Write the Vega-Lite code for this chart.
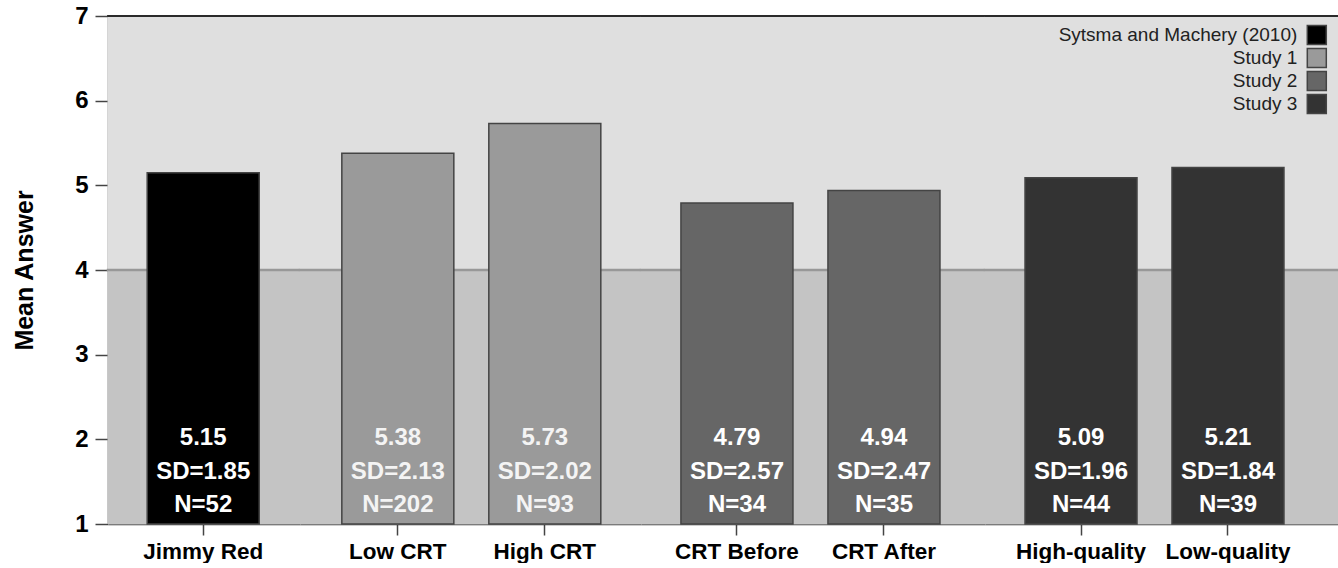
{
  "$schema": "https://vega.github.io/schema/vega-lite/v6.json",
  "padding": {"left": 12, "top": 4, "right": 0, "bottom": 0},
  "autosize": {"type": "pad"},
  "config": {
    "font": "Liberation Sans",
    "view": {"stroke": null},
    "axis": {
      "labelFont": "Liberation Sans", "labelFontSize": 22.5, "labelFontWeight": "bold", "labelColor": "#000000",
      "domainColor": "#333333", "domainWidth": 1.5, "tickColor": "#444444", "tickWidth": 1.5, "grid": false,
      "titleFont": "Liberation Sans", "titleFontSize": 25, "titleFontWeight": "bold", "titleColor": "#000000"
    },
    "axisX": {"tickSize": 11, "labelPadding": 5, "labelAngle": 0},
    "axisY": {"tickSize": 13, "labelPadding": 7, "labelFontSize": 24}
  },
  "data": {"values": [
    {"study": "Sytsma and Machery (2010)", "condition": "Jimmy Red", "mean": 5.15, "sd": 1.85, "n": 52},
    {"study": "Study 1", "condition": "Low CRT", "mean": 5.38, "sd": 2.13, "n": 202},
    {"study": "Study 1", "condition": "High CRT", "mean": 5.73, "sd": 2.02, "n": 93},
    {"study": "Study 2", "condition": "CRT Before", "mean": 4.79, "sd": 2.57, "n": 34},
    {"study": "Study 2", "condition": "CRT After", "mean": 4.94, "sd": 2.47, "n": 35},
    {"study": "Study 3", "condition": "High-quality", "mean": 5.09, "sd": 1.96, "n": 44},
    {"study": "Study 3", "condition": "Low-quality", "mean": 5.21, "sd": 1.84, "n": 39}
  ]},
  "transform": [
    {"calculate": "format(datum.mean, '.2f')", "as": "mean_label"},
    {"calculate": "'SD=' + format(datum.sd, '.2f')", "as": "sd_label"},
    {"calculate": "'N=' + datum.n", "as": "n_label"}
  ],
  "spacing": 0,
  "bounds": "flush",
  "resolve": {"scale": {"x": "independent", "y": "independent", "color": "independent"}},
  "hconcat": [
    {
      "width": 192, "height": 508,
      "transform": [{"filter": "datum.study === 'Sytsma and Machery (2010)'"}],
      "encoding": {
        "x": {"field": "condition", "type": "nominal", "sort": null, "title": null, "scale": {"paddingInner": 0.238, "paddingOuter": 0.272, "align": 0.49, "round": false}}
      },
      "layer": [
        {"transform": [{"aggregate": [{"op": "count", "as": "c"}]}], "mark": {"type": "rect", "fill": "#c4c4c4", "stroke": "#c4c4c4", "strokeWidth": 1}, "encoding": {"x": null, "y": {"datum": 1, "type": "quantitative", "title": "Mean Answer", "scale": {"domain": [1, 7], "nice": false, "zero": false}, "axis": {"values": [1, 2, 3, 4, 5, 6, 7], "format": "d", "title": "Mean Answer", "titlePadding": 37}}, "y2": {"datum": 4}}},
        {"transform": [{"aggregate": [{"op": "count", "as": "c"}]}], "mark": {"type": "rect", "fill": "#dfdfdf", "stroke": "#dfdfdf", "strokeWidth": 1}, "encoding": {"x": null, "y": {"datum": 4, "type": "quantitative", "title": "Mean Answer"}, "y2": {"datum": 7}}},
        {"transform": [{"aggregate": [{"op": "count", "as": "c"}]}], "mark": {"type": "rule", "stroke": "#989898", "strokeWidth": 2.5, "strokeCap": "square"}, "encoding": {"x": null, "y": {"datum": 4, "type": "quantitative", "title": "Mean Answer"}}},
        {"transform": [{"aggregate": [{"op": "count", "as": "c"}]}], "mark": {"type": "rule", "stroke": "#2a2a2a", "strokeWidth": 1.8, "strokeCap": "square"}, "encoding": {"x": null, "y": {"datum": 7, "type": "quantitative", "title": "Mean Answer"}}},
        {
          "mark": {"type": "bar", "stroke": "#444444", "strokeWidth": 1.5},
          "encoding": {
            "y": {"field": "mean", "type": "quantitative", "title": "Mean Answer"},
            "y2": {"datum": 1},
            "color": {"field": "study", "type": "nominal", "scale": {"domain": ["Sytsma and Machery (2010)", "Study 1", "Study 2", "Study 3"], "range": ["#000000", "#9a9a9a", "#666666", "#333333"]}, "legend": null}
          }
        },
        {"mark": {"type": "text", "fill": "#ffffff", "fontSize": 24, "fontWeight": "bold", "baseline": "middle"}, "encoding": {"y": {"datum": 2.02, "type": "quantitative", "title": "Mean Answer"}, "text": {"field": "mean_label"}}},
        {"mark": {"type": "text", "fill": "#ffffff", "fontSize": 24, "fontWeight": "bold", "baseline": "middle"}, "encoding": {"y": {"datum": 1.615, "type": "quantitative", "title": "Mean Answer"}, "text": {"field": "sd_label"}}},
        {"mark": {"type": "text", "fill": "#ffffff", "fontSize": 24, "fontWeight": "bold", "baseline": "middle"}, "encoding": {"y": {"datum": 1.225, "type": "quantitative", "title": "Mean Answer"}, "text": {"field": "n_label"}}}
      ]
    },
    {
      "width": 341, "height": 508,
      "transform": [{"filter": "datum.study === 'Study 1'"}],
      "encoding": {
        "x": {"field": "condition", "type": "nominal", "sort": null, "title": null, "scale": {"paddingInner": 0.238, "paddingOuter": 0.279, "align": 0.51, "round": false}}
      },
      "layer": [
        {"transform": [{"aggregate": [{"op": "count", "as": "c"}]}], "mark": {"type": "rect", "fill": "#c4c4c4", "stroke": "#c4c4c4", "strokeWidth": 1}, "encoding": {"x": null, "y": {"datum": 1, "type": "quantitative", "scale": {"domain": [1, 7], "nice": false, "zero": false}, "axis": null}, "y2": {"datum": 4}}},
        {"transform": [{"aggregate": [{"op": "count", "as": "c"}]}], "mark": {"type": "rect", "fill": "#dfdfdf", "stroke": "#dfdfdf", "strokeWidth": 1}, "encoding": {"x": null, "y": {"datum": 4, "type": "quantitative", "axis": null}, "y2": {"datum": 7}}},
        {"transform": [{"aggregate": [{"op": "count", "as": "c"}]}], "mark": {"type": "rule", "stroke": "#989898", "strokeWidth": 2.5, "strokeCap": "square"}, "encoding": {"x": null, "y": {"datum": 4, "type": "quantitative", "axis": null}}},
        {"transform": [{"aggregate": [{"op": "count", "as": "c"}]}], "mark": {"type": "rule", "stroke": "#2a2a2a", "strokeWidth": 1.8, "strokeCap": "square"}, "encoding": {"x": null, "y": {"datum": 7, "type": "quantitative", "axis": null}}},
        {
          "mark": {"type": "bar", "stroke": "#444444", "strokeWidth": 1.5},
          "encoding": {
            "y": {"field": "mean", "type": "quantitative", "axis": null},
            "y2": {"datum": 1},
            "color": {"field": "study", "type": "nominal", "scale": {"domain": ["Sytsma and Machery (2010)", "Study 1", "Study 2", "Study 3"], "range": ["#000000", "#9a9a9a", "#666666", "#333333"]}, "legend": null}
          }
        },
        {"mark": {"type": "text", "fill": "#f4f4f4", "fontSize": 24, "fontWeight": "bold", "baseline": "middle"}, "encoding": {"y": {"datum": 2.02, "type": "quantitative", "axis": null}, "text": {"field": "mean_label"}}},
        {"mark": {"type": "text", "fill": "#f4f4f4", "fontSize": 24, "fontWeight": "bold", "baseline": "middle"}, "encoding": {"y": {"datum": 1.615, "type": "quantitative", "axis": null}, "text": {"field": "sd_label"}}},
        {"mark": {"type": "text", "fill": "#f4f4f4", "fontSize": 24, "fontWeight": "bold", "baseline": "middle"}, "encoding": {"y": {"datum": 1.225, "type": "quantitative", "axis": null}, "text": {"field": "n_label"}}}
      ]
    },
    {
      "width": 344, "height": 508,
      "transform": [{"filter": "datum.study === 'Study 2'"}],
      "encoding": {
        "x": {"field": "condition", "type": "nominal", "sort": null, "title": null, "scale": {"paddingInner": 0.238, "paddingOuter": 0.289, "align": 0.47, "round": false}}
      },
      "layer": [
        {"transform": [{"aggregate": [{"op": "count", "as": "c"}]}], "mark": {"type": "rect", "fill": "#c4c4c4", "stroke": "#c4c4c4", "strokeWidth": 1}, "encoding": {"x": null, "y": {"datum": 1, "type": "quantitative", "scale": {"domain": [1, 7], "nice": false, "zero": false}, "axis": null}, "y2": {"datum": 4}}},
        {"transform": [{"aggregate": [{"op": "count", "as": "c"}]}], "mark": {"type": "rect", "fill": "#dfdfdf", "stroke": "#dfdfdf", "strokeWidth": 1}, "encoding": {"x": null, "y": {"datum": 4, "type": "quantitative", "axis": null}, "y2": {"datum": 7}}},
        {"transform": [{"aggregate": [{"op": "count", "as": "c"}]}], "mark": {"type": "rule", "stroke": "#989898", "strokeWidth": 2.5, "strokeCap": "square"}, "encoding": {"x": null, "y": {"datum": 4, "type": "quantitative", "axis": null}}},
        {"transform": [{"aggregate": [{"op": "count", "as": "c"}]}], "mark": {"type": "rule", "stroke": "#2a2a2a", "strokeWidth": 1.8, "strokeCap": "square"}, "encoding": {"x": null, "y": {"datum": 7, "type": "quantitative", "axis": null}}},
        {
          "mark": {"type": "bar", "stroke": "#444444", "strokeWidth": 1.5},
          "encoding": {
            "y": {"field": "mean", "type": "quantitative", "axis": null},
            "y2": {"datum": 1},
            "color": {"field": "study", "type": "nominal", "scale": {"domain": ["Sytsma and Machery (2010)", "Study 1", "Study 2", "Study 3"], "range": ["#000000", "#9a9a9a", "#666666", "#333333"]}, "legend": null}
          }
        },
        {"mark": {"type": "text", "fill": "#ffffff", "fontSize": 24, "fontWeight": "bold", "baseline": "middle"}, "encoding": {"y": {"datum": 2.02, "type": "quantitative", "axis": null}, "text": {"field": "mean_label"}}},
        {"mark": {"type": "text", "fill": "#ffffff", "fontSize": 24, "fontWeight": "bold", "baseline": "middle"}, "encoding": {"y": {"datum": 1.615, "type": "quantitative", "axis": null}, "text": {"field": "sd_label"}}},
        {"mark": {"type": "text", "fill": "#ffffff", "fontSize": 24, "fontWeight": "bold", "baseline": "middle"}, "encoding": {"y": {"datum": 1.225, "type": "quantitative", "axis": null}, "text": {"field": "n_label"}}}
      ]
    },
    {
      "width": 353, "height": 508,
      "transform": [{"filter": "datum.study === 'Study 3'"}],
      "encoding": {
        "x": {"field": "condition", "type": "nominal", "sort": null, "title": null, "scale": {"paddingInner": 0.238, "paddingOuter": 0.32, "align": 0.4255, "round": false}}
      },
      "layer": [
        {"transform": [{"aggregate": [{"op": "count", "as": "c"}]}], "mark": {"type": "rect", "fill": "#c4c4c4", "stroke": "#c4c4c4", "strokeWidth": 1}, "encoding": {"x": null, "y": {"datum": 1, "type": "quantitative", "title": null, "scale": {"domain": [1, 7], "nice": false, "zero": false}, "axis": {"orient": "right", "labels": false, "ticks": false, "domain": true, "title": null}}, "y2": {"datum": 4}}},
        {"transform": [{"aggregate": [{"op": "count", "as": "c"}]}], "mark": {"type": "rect", "fill": "#dfdfdf", "stroke": "#dfdfdf", "strokeWidth": 1}, "encoding": {"x": null, "y": {"datum": 4, "type": "quantitative", "title": null}, "y2": {"datum": 7}}},
        {"transform": [{"aggregate": [{"op": "count", "as": "c"}]}], "mark": {"type": "rule", "stroke": "#989898", "strokeWidth": 2.5, "strokeCap": "square"}, "encoding": {"x": null, "y": {"datum": 4, "type": "quantitative", "title": null}}},
        {"transform": [{"aggregate": [{"op": "count", "as": "c"}]}], "mark": {"type": "rule", "stroke": "#2a2a2a", "strokeWidth": 1.8, "strokeCap": "square"}, "encoding": {"x": null, "y": {"datum": 7, "type": "quantitative", "title": null}}},
        {
          "mark": {"type": "bar", "stroke": "#444444", "strokeWidth": 1.5},
          "encoding": {
            "y": {"field": "mean", "type": "quantitative", "title": null},
            "y2": {"datum": 1},
            "color": {"field": "study", "type": "nominal", "scale": {"domain": ["Sytsma and Machery (2010)", "Study 1", "Study 2", "Study 3"], "range": ["#000000", "#9a9a9a", "#666666", "#333333"]},
              "legend": {"orient": "none", "legendX": 321.3, "legendY": 8.5, "title": null, "direction": "vertical", "symbolType": "square", "symbolSize": 361, "symbolStrokeColor": "#444444", "symbolStrokeWidth": 1.5, "labelFont": "Liberation Sans", "labelFontSize": 19, "labelColor": "#222222", "labelAlign": "right", "labelOffset": -30, "rowPadding": -2, "padding": 0, "labelLimit": 400}}
          }
        },
        {"mark": {"type": "text", "fill": "#ffffff", "fontSize": 24, "fontWeight": "bold", "baseline": "middle"}, "encoding": {"y": {"datum": 2.02, "type": "quantitative", "title": null}, "text": {"field": "mean_label"}}},
        {"mark": {"type": "text", "fill": "#ffffff", "fontSize": 24, "fontWeight": "bold", "baseline": "middle"}, "encoding": {"y": {"datum": 1.615, "type": "quantitative", "title": null}, "text": {"field": "sd_label"}}},
        {"mark": {"type": "text", "fill": "#ffffff", "fontSize": 24, "fontWeight": "bold", "baseline": "middle"}, "encoding": {"y": {"datum": 1.225, "type": "quantitative", "title": null}, "text": {"field": "n_label"}}}
      ]
    }
  ]
}
